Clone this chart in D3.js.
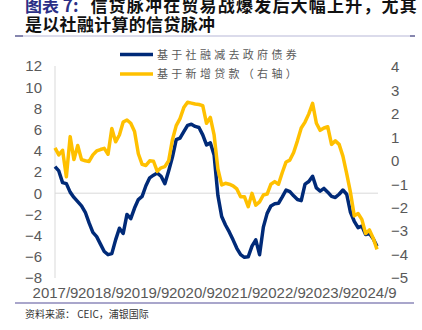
<!DOCTYPE html>
<html>
<head>
<meta charset="utf-8">
<script src="https://cdn.jsdelivr.net/npm/d3@7"></script>
<style>
  html, body { margin: 0; padding: 0; background: #fff; }
  svg { display: block; }
</style>
</head>
<body>
<svg id="chart" width="422" height="330"></svg>
<script>
// Monthly categories, 2017/9 through 2024/10
const months = d3.timeMonth.range(new Date(2017, 8, 1), new Date(2024, 10, 1))
  .map(d => d3.timeFormat("%Y/%-m")(d));

const tickLabels = ["2017/9", "2018/9", "2019/9", "2020/9", "2021/9", "2022/9", "2023/9", "2024/9"];
const leftTicks = [12, 10, 8, 6, 4, 2, 0, -2, -4, -6, -8];
const rightTicks = [4, 3, 2, 1, 0, -1, -2, -3, -4, -5];

const seriesNames = ["基于社融减去政府债券", "基于新增贷款（右轴）"];

// Credit impulse based on TSF excluding government bonds (left axis)
const tsfImpulse = [
  2.5, 2.1, 1.0, 0.9, 0.1, -0.4, -0.8, -1.2, -1.8, -2.8,
  -3.7, -4.1, -4.8, -5.5, -5.8, -5.7, -4.4, -3.3, -3.8, -2.0,
  -2.4, -1.4, -0.6, -0.3, 0.7, 1.45, 1.7, 1.9, 1.6, 0.9,
  2.1, 3.4, 5.05, 5.2, 5.8, 6.4, 6.5, 6.3, 6.2, 5.5,
  4.55, 4.75, 3.6, -0.2, -2.2, -3.0, -3.65, -4.4, -5.2, -5.8,
  -6.05, -6.0, -5.0, -4.4, -5.8, -3.2, -1.9, -1.2, -1.0, -0.95,
  -0.35, 0.3, 0.15, -0.25, -0.6, -0.7, 0.85, 1.1, 1.6, 0.5,
  0.2, 0.45, 0.1, -0.3, -0.4, -0.1, 0.3, -0.1, -1.8, -2.65,
  -3.25, -3.1, -3.9, -3.8, -4.3, -5.0
];

// Credit impulse based on new loans (right axis)
const loanImpulse = [
  0.55, 0.25, 0.45, -0.68, 1.03, 0.05, 0.65, 0.05, 0.0, -0.03,
  0.25, 0.42, 0.48, 0.53, 0.28, 1.38, 0.81, 1.1, 1.65, 1.74,
  1.6, 1.25, 0.3, -0.15, -0.2, 0.0, -0.02, -0.45, -0.3, -0.25,
  0.0, 0.9, 1.5, 1.8, 2.27, 2.5, 2.46, 2.42, 2.4, 2.35,
  1.6, 1.85, 1.1, -0.35, -1.03, -0.96, -1.0, -1.07, -1.2, -1.53,
  -1.53, -1.96, -1.39, -1.89, -1.75, -1.46, -1.42, -1.0, -0.89, -1.0,
  -0.5, -0.05, 0.03, 0.35, 0.85, 1.4, 1.65, 2.0, 2.45, 1.6,
  1.3, 1.4, 1.45, 0.7, 0.85, 0.7, 0.2, -0.55, -1.35, -2.35,
  -2.25, -2.5, -3.1, -2.95, -3.3, -3.78
];

const colors = ["#002a78", "#ffc000"];
const axisFont = "'Liberation Sans', Arial, sans-serif";
const cjkFont = "'Noto Sans CJK SC', sans-serif";

const svg = d3.select("#chart");

const x = d3.scalePoint().domain(months).range([55, 377]);
const yL = d3.scaleLinear().domain([-8, 12]).range([278, 66]);
const yR = d3.scaleLinear().domain([-5, 4]).range([278, 67]);

// Title, two lines
const title1 = svg.append("text")
  .attr("x", 25).attr("y", 12)
  .attr("font-family", cjkFont).attr("font-weight", 700).attr("font-size", 17);
title1.append("tspan").attr("fill", "#2b2f86").text("图表 7:");
title1.append("tspan").attr("dx", 12).attr("fill", "#111")
  .attr("letter-spacing", 1.2).text("信贷脉冲在贸易战爆发后大幅上升，尤其");
svg.append("text")
  .attr("font-family", cjkFont).attr("font-weight", 700).attr("font-size", 17)
  .attr("letter-spacing", 0.3).attr("fill", "#111")
  .attr("x", 25).attr("y", 31).text("是以社融计算的信贷脉冲");

// Rules under the title and above the source note
svg.append("line").attr("x1", 15).attr("x2", 415).attr("y1", 36).attr("y2", 36)
  .attr("stroke", "#cfcfe4").attr("stroke-width", 1.5);
svg.append("line").attr("x1", 15).attr("x2", 23).attr("y1", 36).attr("y2", 36)
  .attr("stroke", "#6a6a9a").attr("stroke-width", 1.5);
svg.append("line").attr("x1", 410).attr("x2", 415).attr("y1", 36).attr("y2", 36)
  .attr("stroke", "#6a6a9a").attr("stroke-width", 1.5);
svg.append("line").attr("x1", 15).attr("x2", 414).attr("y1", 303).attr("y2", 303)
  .attr("stroke", "#8c89ba").attr("stroke-width", 1.5);

// Source note
svg.append("text").attr("x", 25).attr("y", 318)
  .attr("font-family", cjkFont).attr("font-size", 10).attr("fill", "#333")
  .text("资料来源： CEIC，浦银国际");

// Left axis line and zero line
svg.append("line")
  .attr("x1", x(months[0])).attr("x2", x(months[0]))
  .attr("y1", yL(12)).attr("y2", yL(-8))
  .attr("stroke", "#d9d9d9").attr("stroke-width", 1);
svg.append("line")
  .attr("x1", x(months[0])).attr("x2", x(months[months.length - 1]) + 1)
  .attr("y1", yL(0)).attr("y2", yL(0))
  .attr("stroke", "#d9d9d9").attr("stroke-width", 1);

function styleAxis(g) {
  g.select(".domain").remove();
  g.selectAll(".tick line").remove();
  g.selectAll("text").attr("font-family", axisFont).attr("font-size", 15).attr("fill", "#595959");
}

svg.append("g").attr("transform", "translate(42,0)")
  .call(d3.axisLeft(yL).tickValues(leftTicks).tickSize(0).tickPadding(0).tickFormat(d3.format("d")))
  .call(styleAxis);

svg.append("g").attr("transform", "translate(391,0)")
  .call(d3.axisRight(yR).tickValues(rightTicks).tickSize(0).tickPadding(0).tickFormat(d3.format("d")))
  .call(styleAxis);

const xAxis = svg.append("g").attr("transform", "translate(0,298)")
  .call(d3.axisBottom(x).tickValues(tickLabels).tickSize(0).tickPadding(0))
  .call(styleAxis);
xAxis.selectAll("text").attr("y", 0).attr("dy", null);

// Lines
const lineL = d3.line().x((d, i) => x(months[i])).y(d => yL(d));
const lineR = d3.line().x((d, i) => x(months[i])).y(d => yR(d));

svg.append("path").datum(tsfImpulse)
  .attr("d", lineL).attr("fill", "none")
  .attr("stroke", colors[0]).attr("stroke-width", 3.5)
  .attr("stroke-linejoin", "round");
svg.append("path").datum(loanImpulse)
  .attr("d", lineR).attr("fill", "none")
  .attr("stroke", colors[1]).attr("stroke-width", 3.5)
  .attr("stroke-linejoin", "round");

// Legend
const legend = svg.append("g");
[54.5, 74].forEach((ly, i) => {
  legend.append("line").attr("x1", 120).attr("x2", 153).attr("y1", ly).attr("y2", ly)
    .attr("stroke", colors[i]).attr("stroke-width", 3.5);
  legend.append("text").attr("x", 157).attr("y", ly - 1)
    .attr("dominant-baseline", "central")
    .attr("font-family", cjkFont).attr("font-size", 11).attr("letter-spacing", 3.3)
    .attr("fill", "#595959").text(seriesNames[i]);
});
</script>
</body>
</html>
